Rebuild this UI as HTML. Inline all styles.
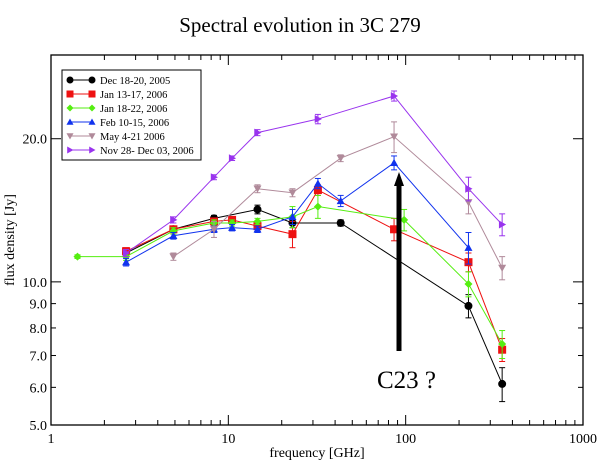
<!DOCTYPE html>
<html><head><meta charset="utf-8"><style>
html,body{margin:0;padding:0;background:#fff;}
svg{display:block;font-family:"Liberation Serif",serif;}
</style></head><body>
<svg id="chart" width="600" height="463" viewBox="0 0 600 463" xmlns="http://www.w3.org/2000/svg">
<text x="300" y="32" text-anchor="middle" font-size="21">Spectral evolution in 3C 279</text>
<g id="axes"></g>
<g id="series"></g>
<g id="legend"></g>
</svg>
<script>
const seriesNames=["Dec 18-20, 2005","Jan  13-17, 2006","Jan  18-22, 2006","Feb 10-15, 2006","May 4-21 2006","Nov 28- Dec 03, 2006"];
const colors=["#000000","#ee1111","#55ee11","#1133ee","#b08a9a","#9933ee"];
const markers=["circle","square","diamond","up","down","right"];
const freqBlack=[2.65,4.9,8.3,14.6,23,43,226,350];
const fluxBlack=[11.5,12.9,13.6,14.2,13.3,13.3,8.9,6.1];
const errBlack=[0.2,0.2,0.2,0.3,0.3,0.2,0.5,0.5];
const freqRed=[2.65,4.9,8.3,10.5,14.6,23,32,86,226,350];
const fluxRed=[11.6,12.9,13.4,13.5,13.1,12.6,15.6,12.9,11.0,7.2];
const errRed=[0.2,0.2,0.2,0.2,0.2,0.8,0.4,0.7,0.5,0.4];
const freqGreen=[1.41,2.65,4.9,8.3,10.5,14.6,23,32,98,226,350];
const fluxGreen=[11.3,11.3,12.8,13.3,13.3,13.4,13.7,14.4,13.5,9.9,7.4];
const errGreen=[0.1,0.2,0.2,0.2,0.2,0.2,0.7,0.8,0.7,0.6,0.5];
const freqBlue=[2.65,4.9,8.3,10.5,14.6,23,32,43,86,226];
const fluxBlue=[11.0,12.5,12.9,13.0,12.9,13.7,16.1,14.8,17.8,11.8];
const errBlue=[0.2,0.2,0.2,0.2,0.2,0.5,0.4,0.4,0.6,0.9];
const freqMauve=[4.9,8.3,14.6,23,43,86,226,350];
const fluxMauve=[11.3,12.9,15.7,15.4,18.2,20.2,14.7,10.7];
const errMauve=[0.2,0.5,0.3,0.3,0.3,1.5,0.8,0.6];
const freqPurple=[2.65,4.9,8.3,10.5,14.6,32,86,226,350];
const fluxPurple=[11.5,13.5,16.6,18.2,20.6,22.0,24.6,15.7,13.2];
const errPurple=[0.2,0.2,0.2,0.2,0.3,0.5,0.6,0.9,0.7];
const allFreq=[freqBlack,freqRed,freqGreen,freqBlue,freqMauve,freqPurple];
const allFlux=[fluxBlack,fluxRed,fluxGreen,fluxBlue,fluxMauve,fluxPurple];
const allErr=[errBlack,errRed,errGreen,errBlue,errMauve,errPurple];
const xTicks=[1,10,100,1000];
const xTickLabels=["1","10","100","1000"];
const yTicks=[5,6,7,8,9,10,20];
const yTickLabels=["5.0","6.0","7.0","8.0","9.0","10.0","20.0"];

const X0=51,X1=583,Y0=425,Y1=55;
const xMin=1,xMax=1000,yMin=5,yMax=30;
function xs(f){return X0+(X1-X0)*Math.log10(f/xMin)/Math.log10(xMax/xMin);}
function ys(v){return Y0-(Y0-Y1)*Math.log10(v/yMin)/Math.log10(yMax/yMin);}
const NS="http://www.w3.org/2000/svg";
function mk(tag,attrs,parent){const e=document.createElementNS(NS,tag);for(const k in attrs)e.setAttribute(k,attrs[k]);parent.appendChild(e);return e;}

const axes=document.getElementById('axes');
const frame=mk('rect',{x:X0,y:Y1,width:X1-X0,height:Y0-Y1,fill:'none',stroke:'#000','stroke-width':1.3},axes);


for(let d=1;d<1000;d*=10){for(let m=1;m<10;m++){const f=d*m;const x=xs(f);const L=m===1?10:5;
 mk('line',{x1:x,y1:Y0,x2:x,y2:Y0-L,stroke:'#000'},axes);mk('line',{x1:x,y1:Y1,x2:x,y2:Y1+L,stroke:'#000'},axes);}}
xTicks.forEach((t,i)=>{const tx=mk('text',{x:xs(t),y:Y0+18,'text-anchor':'middle','font-size':14},axes);tx.textContent=xTickLabels[i];
 
 });
[5,6,7,8,9,10,20,30].forEach(v=>{const y=ys(v);const L=(v===10||v===20||v===5)?10:5;
 mk('line',{x1:X0,y1:y,x2:X0+L,y2:y,stroke:'#000'},axes);mk('line',{x1:X1,y1:y,x2:X1-L,y2:y,stroke:'#000'},axes);});
yTicks.forEach((t,i)=>{const tx=mk('text',{x:X0-4,y:ys(t)+5,'text-anchor':'end','font-size':14},axes);tx.textContent=yTickLabels[i];
 
 });
const xl=mk('text',{x:317,y:457,'text-anchor':'middle','font-size':14},axes);xl.textContent='frequency [GHz]';


const yl=mk('text',{x:0,y:0,'text-anchor':'middle','font-size':14,transform:'translate(14,240) rotate(-90)'},axes);yl.textContent='flux density [Jy]';



function marker(type,x,y,c,parent,s){
 s=s||4;
 if(type==='circle')return mk('circle',{cx:x,cy:y,r:s,fill:c},parent);
 if(type==='square')return mk('rect',{x:x-s,y:y-s,width:2*s,height:2*s,fill:c},parent);
 let p;
 if(type==='diamond')p=[[x,y-s],[x+s,y],[x,y+s],[x-s,y]];
 if(type==='up')p=[[x,y-s],[x+s,y+s*0.8],[x-s,y+s*0.8]];
 if(type==='down')p=[[x,y+s],[x+s,y-s*0.8],[x-s,y-s*0.8]];
 if(type==='right')p=[[x+s,y],[x-s*0.8,y-s],[x-s*0.8,y+s]];
 return mk('polygon',{points:p.map(q=>q.join(',')).join(' '),fill:c},parent);
}
const sg=document.getElementById('series');
allFreq.forEach((fr,si)=>{
 const g=mk('g',{},sg);
 
 
 const c=colors[si];
 const pts=fr.map((f,i)=>xs(f)+','+ys(allFlux[si][i])).join(' ');
 const pl=mk('polyline',{points:pts,fill:'none',stroke:c,'stroke-width':1},g);
 
 
 fr.forEach((f,i)=>{const x=xs(f),v=allFlux[si][i],e=allErr[si][i];
  const ya=ys(v+e),yb=ys(v-e);
  mk('line',{x1:x,y1:ya,x2:x,y2:yb,stroke:c},g);
  mk('line',{x1:x-3,y1:ya,x2:x+3,y2:ya,stroke:c},g);
  mk('line',{x1:x-3,y1:yb,x2:x+3,y2:yb,stroke:c},g);
  const m=marker(markers[si],x,ys(v),c,g);
  
  });
});
// arrow
const ag=mk('g',{},sg);


mk('line',{x1:399,y1:351,x2:399,y2:183,stroke:'#000','stroke-width':5},ag);
mk('polygon',{points:'399,172 394,186 404,186',fill:'#000'},ag);
const ct=mk('text',{x:377,y:388,'font-size':25},sg);ct.textContent='C23 ?';



const lg=document.getElementById('legend');
const lb=mk('rect',{x:62,y:70,width:139,height:90,fill:'#fff',stroke:'#000','stroke-width':1},lg);


seriesNames.forEach((n,i)=>{const y=80+i*14;const c=colors[i];
 const eg=mk('g',{},lg);
 
 
 mk('line',{x1:70,y1:y,x2:92,y2:y,stroke:c},eg);
 marker(markers[i],70,y,c,eg,3.5);marker(markers[i],92,y,c,eg,3.5);
 const t=mk('text',{x:100,y:y+4,'font-size':10.5},eg);t.textContent=n;});
</script>
</body></html>
